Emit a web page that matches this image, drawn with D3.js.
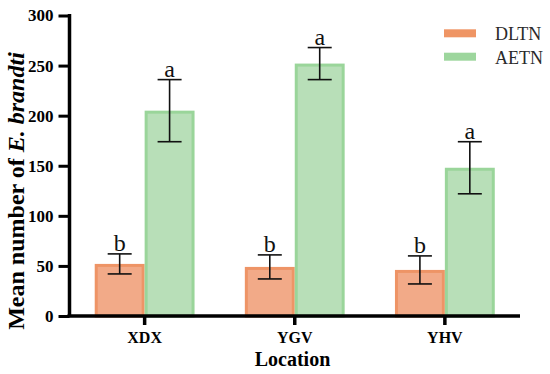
<!DOCTYPE html>
<html><head><meta charset="utf-8">
<script src="https://cdn.jsdelivr.net/npm/d3@7"></script>
<style>body{margin:0;background:#fff}svg{display:block}</style>
</head><body><svg id="c" width="550" height="374"></svg>
<script>
const categories = ["XDX", "YGV", "YHV"];
const seriesNames = ["DLTN", "AETN"];
const dltnMean = [52, 49, 46];
const dltnErr = [10, 12, 14];
const aetnMean = [205, 252, 148];
const aetnErr = [31, 16, 26];
const dltnLetters = ["b", "b", "b"];
const aetnLetters = ["a", "a", "a"];
const yTicks = [0, 50, 100, 150, 200, 250, 300];

const fills = {DLTN: "#F2AA88", AETN: "#B8DFB8"};
const strokes = {DLTN: "#EE9466", AETN: "#9AD59A"};

const svg = d3.select("#c");
const font = "'Liberation Serif'";
const m = {left: 69.5, right: 520, top: 15.5, bottom: 316};

const x = d3.scaleBand().domain(categories).range([m.left, m.right]).paddingInner(0.335).paddingOuter(0.168);
const xs = d3.scaleBand().domain(seriesNames).range([0, x.bandwidth()]);
const y = d3.scaleLinear().domain([0, 300]).range([m.bottom, m.top]);

const data = [];
categories.forEach((c, i) => {
  data.push({cat: c, s: "DLTN", v: dltnMean[i], e: dltnErr[i], l: dltnLetters[i]});
  data.push({cat: c, s: "AETN", v: aetnMean[i], e: aetnErr[i], l: aetnLetters[i]});
});

const g = svg.append("g");
g.selectAll("rect.bar").data(data).join("rect").attr("class", "bar")
  .attr("x", d => x(d.cat) + xs(d.s) + 1.5)
  .attr("width", xs.bandwidth() - 3)
  .attr("y", d => y(d.v) + 1.5)
  .attr("height", d => y(0) - y(d.v) - 1.5)
  .attr("fill", d => fills[d.s])
  .attr("stroke", d => strokes[d.s])
  .attr("stroke-width", 3);

const cx = d => x(d.cat) + xs(d.s) + xs.bandwidth() / 2;
const eb = g.selectAll("g.err").data(data).join("g").attr("class", "err")
  .attr("stroke", "#111").attr("stroke-width", 1.6);
eb.append("line").attr("x1", cx).attr("x2", cx).attr("y1", d => y(d.v + d.e)).attr("y2", d => y(d.v - d.e));
eb.append("line").attr("x1", d => cx(d) - 12).attr("x2", d => cx(d) + 12).attr("y1", d => y(d.v + d.e)).attr("y2", d => y(d.v + d.e));
eb.append("line").attr("x1", d => cx(d) - 12).attr("x2", d => cx(d) + 12).attr("y1", d => y(d.v - d.e)).attr("y2", d => y(d.v - d.e));

g.selectAll("text.let").data(data).join("text").attr("class", "let")
  .attr("x", cx).attr("y", d => y(d.v + d.e) - 2.5)
  .attr("text-anchor", "middle")
  .style("font-family", font).style("font-size", "24px")
  .attr("fill", "#111").text(d => d.l);

// axes
const yAxis = svg.append("g").attr("transform", `translate(${m.left},0)`)
  .call(d3.axisLeft(y).tickValues(yTicks).tickSize(11).tickPadding(5));
yAxis.attr("font-family", null);
yAxis.select(".domain").attr("stroke", "#000").attr("stroke-width", 3.5).attr("d", `M0,${m.top - 1.5}V${m.bottom}`);
yAxis.selectAll(".tick line").attr("stroke", "#000").attr("stroke-width", 3);
yAxis.selectAll(".tick text").style("font-family", font).style("font-weight", "bold").style("font-size", "17px").attr("fill", "#000");

const xAxis = svg.append("g").attr("transform", `translate(0,${m.bottom})`)
  .call(d3.axisBottom(x).tickSize(9));
xAxis.attr("font-family", null);
xAxis.select(".domain").attr("stroke", "#000").attr("stroke-width", 3.5).attr("d", `M${m.left - 2},0H${m.right}`);
xAxis.selectAll(".tick line").attr("stroke", "#000").attr("stroke-width", 3.5);
xAxis.selectAll(".tick text").attr("y", 27).attr("dy", null)
  .style("font-family", font).style("font-weight", "bold").style("font-size", "16px").attr("fill", "#000");

svg.append("text").attr("x", 292.5).attr("y", 366)
  .attr("text-anchor", "middle")
  .style("font-family", font).style("font-weight", "bold").style("font-size", "20px")
  .text("Location");

const yt = svg.append("text").attr("transform", "translate(24,191) rotate(-90)")
  .attr("text-anchor", "middle")
  .style("font-family", font).style("font-weight", "bold").style("font-size", "24px");
yt.append("tspan").text("Mean number of ");
yt.append("tspan").style("font-style", "italic").text("E. brandti");
// fit title to the reference's span of ~282px
const len = yt.node().getComputedTextLength();
if (len > 0) yt.style("font-size", Math.min(24, 24 * 282 / len) + "px");

// legend
const lg = svg.append("g").selectAll("g").data(seriesNames).join("g")
  .attr("transform", (d, i) => `translate(444,${29.3 + i * 23.4})`);
lg.append("rect").attr("width", 32).attr("height", 8).attr("fill", d => d === "DLTN" ? "#EF9564" : "#9DD69D");
lg.append("text").attr("x", 51).attr("y", 11)
  .style("font-family", font).style("font-size", "18px").attr("fill", "#2a2a2a").text(d => d);
</script></body></html>
